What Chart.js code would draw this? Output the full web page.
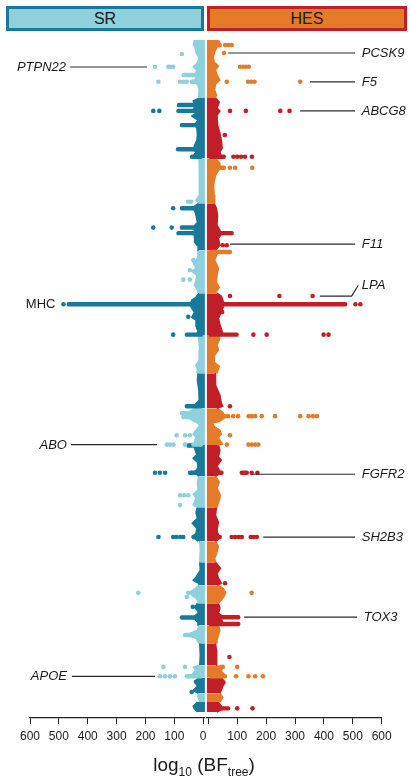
<!DOCTYPE html>
<html>
<head>
<meta charset="utf-8">
<script src="https://cdn.jsdelivr.net/npm/chart.js@4.4.1/dist/chart.umd.min.js"></script>
<style>
  html, body { margin: 0; padding: 0; background: #fff; }
  #wrap { position: relative; width: 411px; height: 778px; overflow: hidden;
    font-family: 'Liberation Sans', Arial, sans-serif; color: #1a1a1a; }
  canvas { position: absolute; left: 0; top: 0; }
  .head { position: absolute; top: 6px; height: 25px; box-sizing: border-box;
    border: 3px solid; text-align: center; font-size: 16px; line-height: 19px; }
  #srHead { left: 6px; width: 198px; background: #8ed0dc; border-color: #18799a; }
  #hesHead { left: 207px; width: 200px; background: #e57b28; border-color: #c21e27; }
  #xTitle { position: absolute; left: 0; width: 408px; top: 755px; text-align: center;
    font-size: 19px; line-height: 19px; }
  #xTitle sub { font-size: 12px; line-height: 0; vertical-align: -5px; }
</style>
</head>
<body>
<div id="wrap">
  <canvas id="srChart" width="411" height="778"></canvas>
  <canvas id="hesChart" width="411" height="778"></canvas>
  <div class="head" id="srHead">SR</div>
  <div class="head" id="hesHead">HES</div>
  <div id="xTitle">log<sub>10</sub> (BF<sub>tree</sub>)</div>
</div>
<script>
// chromosomes top to bottom, span of each in Mb
const chromosomes = ['1','2','3','4','5','6','7','8','9','10','11','12','13','14','15','16','17','18','19','20','21','22'];
const chromLength = [241, 249, 187, 195, 178, 174, 158, 145, 153, 129, 129, 141, 87, 95, 75, 91, 75, 91, 52, 64, 37, 41];
const xTicks = [0, 100, 200, 300, 400, 500, 600];

// outline of the dense band of SNPs, per chromosome: [position (Mb), log10 BF]
const srBand = [
  [[0,30],[17,34],[33,28],[54,24],[75,14],[95,20],[111,35],[125,22],[145,30],[160,25],[174,35],[187,18],[207,14],[228,16],[241,14]],
  [[0,14],[12,35],[29,28],[50,35],[62,25],[75,40],[91,18],[112,30],[124,22],[154,20],[174,22],[212,35],[224,25],[241,35],[249,15]],
  [[0,14],[29,12],[71,14],[112,12],[154,14],[174,25],[187,14]],
  [[0,15],[12,30],[29,30],[50,25],[79,20],[100,35],[112,30],[124,35],[137,30],[162,30],[183,15],[195,18]],
  [[0,18],[33,20],[50,35],[75,25],[87,40],[104,22],[124,25],[145,30],[166,20],[178,18]],
  [[0,15],[17,25],[29,40],[46,45],[62,40],[79,30],[100,40],[112,25],[137,25],[158,18],[174,25]],
  [[0,18],[21,15],[62,12],[104,14],[124,25],[145,20],[158,22]],
  [[0,18],[29,20],[71,15],[112,14],[133,30],[145,20]],
  [[0,30],[12,45],[29,55],[45,45],[62,20],[71,12],[91,25],[108,35],[120,25],[137,30],[153,30]],
  [[0,35],[12,30],[41,22],[54,35],[71,20],[95,18],[112,30],[120,25],[129,15]],
  [[0,15],[25,20],[58,18],[75,35],[87,25],[108,30],[120,35],[129,20]],
  [[0,20],[21,25],[46,20],[66,38],[87,22],[108,25],[120,35],[129,30],[141,18]],
  [[0,12],[37,10],[87,12]],
  [[0,12],[33,10],[62,25],[75,35],[87,15],[95,14]],
  [[0,15],[17,30],[29,45],[41,40],[54,25],[75,15]],
  [[0,20],[17,30],[37,15],[54,30],[66,30],[83,15],[91,18]],
  [[0,15],[21,20],[33,45],[46,45],[54,25],[75,15]],
  [[0,12],[50,10],[91,12]],
  [[0,15],[8,35],[21,25],[33,35],[44,40],[52,20]],
  [[0,18],[19,28],[35,20],[52,35],[64,18]],
  [[0,15],[17,18],[37,12]],
  [[0,20],[17,35],[29,30],[41,20]]
];
const hesBand = [
  [[0,35],[12,40],[29,30],[50,22],[71,17],[91,20],[108,35],[124,25],[145,30],[166,40],[183,25],[207,22],[228,28],[241,25]],
  [[0,25],[17,38],[41,30],[54,40],[71,30],[112,32],[145,40],[174,45],[207,48],[224,40],[241,45],[249,30]],
  [[0,25],[21,40],[41,40],[71,25],[112,18],[154,20],[187,22]],
  [[0,20],[21,28],[50,32],[91,30],[112,40],[129,45],[145,35],[174,40],[195,25]],
  [[0,25],[17,30],[41,22],[75,35],[104,30],[133,28],[154,38],[178,25]],
  [[0,30],[12,45],[29,50],[46,55],[62,50],[79,45],[104,35],[129,40],[149,45],[166,50],[174,40]],
  [[0,40],[21,38],[41,30],[62,35],[83,22],[112,20],[129,38],[158,30]],
  [[0,25],[50,25],[91,40],[124,45],[137,50],[145,30]],
  [[0,30],[17,50],[29,55],[41,55],[54,40],[62,15],[75,20],[91,40],[108,45],[120,35],[133,40],[149,50],[153,30]],
  [[0,35],[21,40],[50,35],[62,45],[87,30],[108,40],[116,45],[129,25]],
  [[0,25],[25,38],[50,30],[79,42],[100,38],[129,30]],
  [[0,28],[33,25],[62,35],[95,30],[116,35],[124,40],[133,35],[141,25]],
  [[0,25],[21,35],[46,30],[71,22],[87,25]],
  [[0,25],[25,42],[46,30],[66,35],[87,45],[95,30]],
  [[0,35],[12,50],[29,60],[46,55],[62,45],[75,35]],
  [[0,35],[21,40],[41,35],[54,50],[66,45],[81,50],[91,45]],
  [[0,35],[21,40],[41,35],[62,30],[75,30]],
  [[0,25],[29,28],[58,30],[91,28]],
  [[0,40],[8,50],[25,45],[37,55],[46,55],[52,40]],
  [[0,45],[19,58],[35,50],[52,45],[64,40]],
  [[0,40],[17,50],[37,40]],
  [[0,35],[17,45],[29,50],[41,30]]
];

// dense streaks of SNPs at one locus: [chromosome, position (Mb), from, to]
const srRows = [
  [1,145,0,74],[1,173,0,45],[2,29,0,90],[2,53,0,92],[2,112,0,80],[2,212,0,87],[2,243,0,45],
  [4,21,0,80],[4,101,0,80],[4,124,0,92],[6,46,0,472],[6,172,0,63],[8,137,0,63],
  [9,21,0,80],[9,37,0,75],[9,151,0,40],[10,2,0,57],[10,115,0,52],[12,123,0,40],
  [16,59,0,80],[17,41,0,69],[19,46,0,63]
];
const hesRows = [
  [1,21,0,46],[2,243,0,60],[3,40,0,60],[4,124,0,87],[5,7,0,81],[6,46,0,480],[6,172,0,104],
  [9,25,0,52],[9,33,0,64],[10,115,0,52],[12,123,0,46],[16,58,0,110],[16,86,0,110],
  [19,46,0,64],[22,26,0,75]
];

// SNPs standing out of the band: [chromosome, position (Mb), log10 BF]
const srPoints = [
  [1,58,74],[1,111,167],[1,111,121],[1,111,114],[1,111,104],
  [1,173,155],[1,173,80],[1,173,68],[1,173,57],
  [2,53,173],[2,53,152],[2,212,87],
  [3,181,52],[3,181,42],
  [4,21,104],[4,101,173],[4,101,109],
  [5,41,34],[5,83,46],[5,122,69],[5,122,46],
  [6,46,484],[6,98,52],[6,172,104],
  [9,112,92],[9,112,63],[9,112,46],[9,151,126],[9,151,115],[9,151,103],[9,151,63],
  [10,115,167],[10,115,150],[10,115,132],
  [11,79,80],[11,79,66],[11,79,52],[11,120,80],
  [12,123,155],[12,123,104],[12,123,93],[12,123,80],[12,123,69],
  [15,32,225],[15,32,52],[15,32,40],[15,49,57],
  [16,15,36],
  [19,7,138],[19,7,63],[19,46,150],[19,46,132],[19,46,115],[19,46,98],
  [20,17,25],[20,59,40]
];
const hesPoints = [
  [1,21,58],[1,21,70],[1,21,81],[1,54,54],[1,111,110],[1,111,120],[1,111,130],[1,111,140],
  [1,173,64],[1,173,138],[1,173,148],[1,173,160],[1,173,318],
  [2,53,75],[2,53,130],[2,53,249],[2,53,281],[2,153,57],
  [2,243,87],[2,243,100],[2,243,113],[2,243,127],[2,243,151],
  [3,40,75],[3,40,93],[3,40,152],
  [4,174,50],[4,174,64],
  [6,12,75],[6,12,246],[6,12,361],[6,46,509],[6,46,526],[6,46,665],[6,46,694],[6,78,48],
  [6,172,156],[6,172,202],[6,172,399],[6,172,416],
  [8,137,75],
  [9,33,68],[9,33,86],[9,33,103],[9,33,140],[9,33,150],[9,33,162],[9,33,185],[9,33,231],
  [9,33,318],[9,33,347],[9,33,362],[9,33,376],[9,112,75],
  [9,151,64],[9,151,139],[9,151,150],[9,151,162],[9,151,173],
  [10,115,116],[10,115,122],[10,115,128],[10,115,133],[10,115,150],[10,115,170],
  [12,123,81],[12,123,93],[12,123,105],[12,123,116],[12,123,147],[12,123,157],[12,123,168],
  [14,87,58],[15,32,150],[18,57,73],
  [19,7,50],[19,7,100],[19,46,96],[19,46,139],[19,46,162],[19,46,189],
  [22,26,100],[22,26,153]
];

// annotated loci: [name, chromosome, position, line from, line to, text at, text position]
const srGenes = [
  ['PTPN22', 1, 112, 195, 461, 475],
  ['MHC', 6, 46, null, null, 512],
  ['ABO', 9, 151, 160, 458, 472],
  ['APOE', 19, 46, 167, 455, 472]
];
const hesGenes = [
  ['PCSK9', 1, 54, 69, 508, 531],
  ['F5', 1, 174, 352, 508, 531],
  ['ABCG8', 2, 53, 318, 508, 531],
  ['F11', 4, 170, 75, 508, 531],
  ['LPA', 6, 12, 386, 496, 531, -33],
  ['FGFR2', 10, 121, 151, 508, 531],
  ['SH2B3', 12, 124, 190, 508, 531],
  ['TOX3', 16, 58, 124, 515, 538]
];
const plainLabels = ['MHC'];

const srColors = ['#8ed0dc', '#18799a'];
const hesColors = ['#e57b28', '#c21e27'];

const chromStart = chromLength.reduce((acc, len, i) => {
  acc.push(i === 0 ? 0 : acc[i - 1] + chromLength[i - 1]);
  return acc;
}, []);
const genomeEnd = 2812;

const FONT = "'Liberation Sans', Arial, sans-serif";

const geneLabels = {
  id: 'geneLabels',
  afterDatasetsDraw(chart, _args, opts) {
    const { ctx } = chart;
    const xs = chart.scales.x;
    const ys = chart.scales.y;
    ctx.save();
    ctx.strokeStyle = '#2a2a2a';
    ctx.lineWidth = 1.2;
    ctx.fillStyle = '#1a1a1a';
    ctx.textBaseline = 'middle';
    ctx.textAlign = opts.align;
    opts.genes.forEach(([name, chr, pos, from, to, textAt, textPos]) => {
      const yRow = ys.getPixelForValue(chromStart[chr - 1] + pos);
      const yText = textPos == null ? yRow : ys.getPixelForValue(chromStart[chr - 1] + textPos);
      if (from != null) {
        ctx.beginPath();
        ctx.moveTo(xs.getPixelForValue(from), yRow);
        ctx.lineTo(xs.getPixelForValue(to), yRow);
        if (textPos != null) ctx.lineTo(xs.getPixelForValue(textAt - 12), yText);
        ctx.stroke();
      }
      ctx.font = (plainLabels.includes(name) ? '' : 'italic ') + '13px ' + FONT;
      ctx.fillText(name, xs.getPixelForValue(textAt), yText + 0.5);
    });
    ctx.restore();
  }
};

const byParity = (list, parity) => list.filter(p => (p[0] - 1) % 2 === parity);

const sideDatasets = (band, rows, points, colors) => {
  const sets = [];
  // scattered SNPs first so they sit on top
  [0, 1].forEach(parity => {
    sets.push({
      type: 'scatter',
      data: byParity(points, parity).map(([chr, pos, v]) => ({ x: v, y: chromStart[chr - 1] + pos })),
      backgroundColor: colors[parity],
      borderWidth: 0,
      pointRadius: 2.3,
      clip: false
    });
  });
  [0, 1].forEach(parity => {
    sets.push({
      type: 'bar',
      indexAxis: 'y',
      grouped: false,
      data: byParity(rows, parity).map(([chr, pos, a, b]) => ({ x: [a, b], y: chromStart[chr - 1] + pos })),
      backgroundColor: colors[parity],
      borderWidth: 0,
      borderSkipped: false,
      borderRadius: 2,
      barThickness: 3.8,
      clip: false
    });
  });
  band.forEach((outline, i) => {
    const c = colors[i % 2];
    sets.push({
      type: 'line',
      indexAxis: 'y',
      data: outline.map(([pos, v]) => ({ x: v, y: chromStart[i] + pos })),
      borderColor: c,
      backgroundColor: c,
      borderWidth: 1.5,
      borderJoinStyle: 'round',
      pointRadius: 0,
      tension: 0,
      fill: { value: -6 },
      clip: false
    });
  });
  return sets;
};

const makeChart = (id, band, rows, points, colors, genes, left) => new Chart(document.getElementById(id), {
  type: 'scatter',
  data: { datasets: sideDatasets(band, rows, points, colors) },
  options: {
    responsive: false,
    animation: false,
    events: [],
    layout: {
      padding: left
        ? { left: 30, right: 206.07, top: 40, bottom: 32 }
        : { left: 206.57, right: 29.3, top: 40, bottom: 32 }
    },
    plugins: {
      legend: { display: false },
      tooltip: { enabled: false },
      geneLabels: { genes: genes, align: left ? 'right' : 'left' }
    },
    scales: {
      x: {
        type: 'linear',
        reverse: left,
        min: -6,
        max: 600,
        offset: false,
        afterBuildTicks: s => { s.ticks = xTicks.map(v => ({ value: v })); },
        afterFit: s => { s.height = 28; },
        ticks: {
          autoSkip: false,
          maxRotation: 0,
          padding: 5,
          color: '#1a1a1a',
          font: { family: FONT, size: 12 },
          // the single "0" label sits under the SR axis
          callback: v => (!left && v === 0 ? '' : String(v))
        },
        grid: { drawOnChartArea: false, offset: false, tickLength: 6, color: '#222', lineWidth: 1 },
        border: { color: '#222', width: 1.2 }
      },
      y: {
        type: 'linear',
        reverse: true,
        min: 0,
        max: genomeEnd,
        offset: false,
        grid: { offset: false },
        display: false
      }
    }
  },
  plugins: [geneLabels]
});

window.onload = () => {
  makeChart('srChart', srBand, srRows, srPoints, srColors, srGenes, true);
  makeChart('hesChart', hesBand, hesRows, hesPoints, hesColors, hesGenes, false);
};
</script>
</body>
</html>
